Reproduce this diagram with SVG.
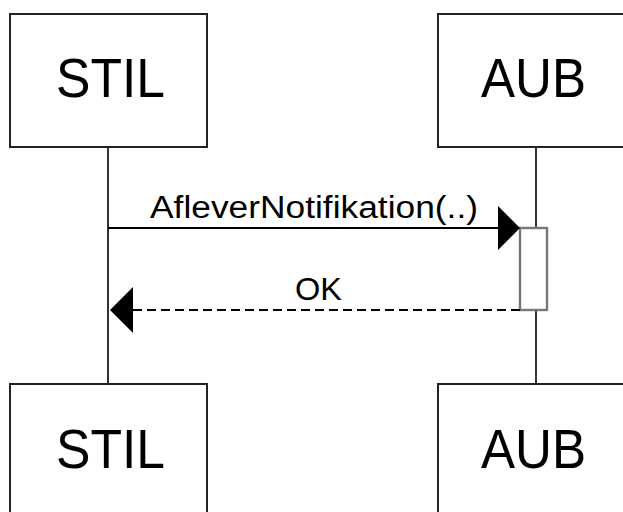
<svg xmlns="http://www.w3.org/2000/svg" width="623" height="512" viewBox="0 0 623 512">
  <style>
    .box { fill: #ffffff; stroke: #222222; stroke-width: 2; }
    .life { stroke: #000000; stroke-width: 1.6; fill: none; }
    .msg { stroke: #000000; stroke-width: 2; fill: none; }
    .ret { stroke: #000000; stroke-width: 2; fill: none; stroke-dasharray: 9 5; }
    .act { fill: #ffffff; stroke: #777777; stroke-width: 2.4; }
    .head { fill: #000000; stroke: none; }
    .big { font-family: "Liberation Sans", Arial, sans-serif; font-size: 56px; fill: #000000; text-anchor: middle; }
    .lbl { font-family: "Liberation Sans", Arial, sans-serif; font-size: 31px; fill: #000000; text-anchor: middle; }
  </style>
  <rect width="623" height="512" fill="#ffffff"/>
  <g id="lifelines">
    <line class="life" x1="108" y1="147" x2="108" y2="384"/>
    <line class="life" x1="536" y1="147" x2="536" y2="384"/>
  </g>
  <g id="stil-top">
    <rect class="box" x="10" y="14" width="197" height="133"/>
    <text class="big" x="110.5" y="97" textLength="109" lengthAdjust="spacingAndGlyphs">STIL</text>
  </g>
  <g id="aub-top">
    <rect class="box" x="438" y="14" width="197" height="133"/>
    <text class="big" x="533.5" y="97" textLength="105" lengthAdjust="spacingAndGlyphs">AUB</text>
  </g>
  <g id="stil-bottom">
    <rect class="box" x="10" y="384" width="197" height="140"/>
    <text class="big" x="110.5" y="468" textLength="109" lengthAdjust="spacingAndGlyphs">STIL</text>
  </g>
  <g id="aub-bottom">
    <rect class="box" x="438" y="384" width="197" height="140"/>
    <text class="big" x="533.5" y="468" textLength="105" lengthAdjust="spacingAndGlyphs">AUB</text>
  </g>
  <g id="activation">
    <rect class="act" x="520" y="228" width="27" height="82"/>
  </g>
  <g id="connectors">
    <line class="msg" x1="108" y1="228" x2="500" y2="228"/>
    <polygon class="head" points="520,228 498,206 498,250"/>
    <text class="lbl" x="314" y="218" textLength="328" lengthAdjust="spacingAndGlyphs">AfleverNotifikation(..)</text>
    <line class="ret" x1="520" y1="310" x2="130" y2="310"/>
    <polygon class="head" points="110,310 133,287 133,333"/>
    <text class="lbl" x="318.5" y="300" textLength="47" lengthAdjust="spacingAndGlyphs">OK</text>
  </g>
</svg>
